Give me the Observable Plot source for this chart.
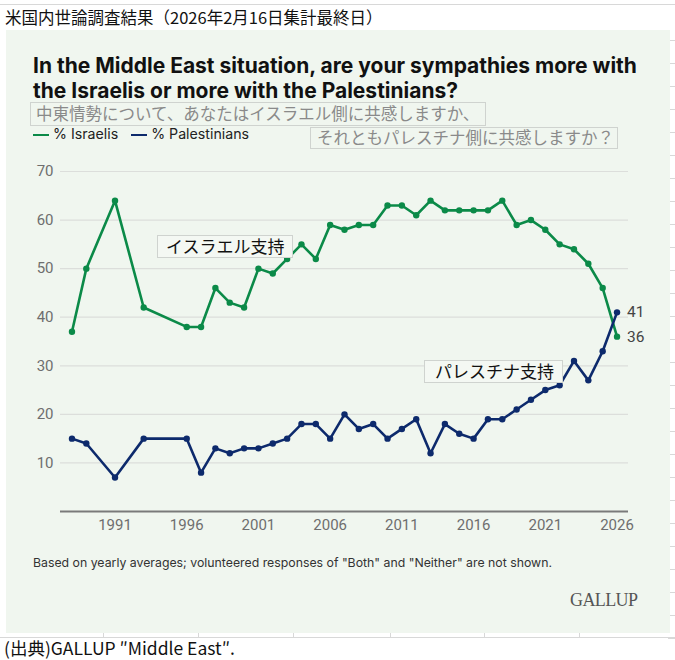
<!DOCTYPE html>
<html><head><meta charset="utf-8">
<script src="https://cdn.jsdelivr.net/npm/d3@7"></script>
<script src="https://cdn.jsdelivr.net/npm/@observablehq/plot@0.6"></script>
<style>
html,body{margin:0;padding:0;background:#fff;}
#wrap{position:relative;width:675px;height:660px;overflow:hidden;font-family:Inter,Roboto,"Noto Sans",sans-serif;}
.abs{position:absolute;white-space:nowrap;}
.jp{font-family:"Noto Sans CJK JP",sans-serif;}
#panel{position:absolute;left:6px;top:30px;width:664px;height:603px;background:#f0f6ef;}
.box{position:absolute;border:1.5px solid #cfd3cf;box-sizing:border-box;}
.cell{position:absolute;background:#d8d8d8;}
</style></head>
<body><div id="wrap">
<div class="cell" style="left:0;top:4px;width:675px;height:1px;"></div>
<div class="abs jp" style="left:5px;top:5px;font-size:16.5px;color:#111;">米国内世論調査結果（2026年2月16日集計最終日）</div>
<div id="cells"></div>
<div id="panel"></div>
<div class="abs" style="left:33px;top:53px;font-size:21px;font-weight:700;color:#111;line-height:25px;">In the Middle East situation, are your sympathies more with</div>
<div class="abs" style="left:33px;top:78px;font-size:21px;font-weight:700;color:#111;line-height:25px;">the Israelis or more with the Palestinians?</div>
<div class="box" style="left:30px;top:102px;width:456px;height:24px;"></div>
<div class="abs jp" style="left:36px;top:101px;font-size:16.5px;line-height:24px;color:#8a8a8a;">中東情勢について、あなたはイスラエル側に共感しますか、</div>
<div class="box" style="left:310px;top:127px;width:308px;height:22px;"></div>
<div class="abs jp" style="left:317px;top:125px;font-size:16.5px;line-height:24px;color:#8a8a8a;">それともパレスチナ側に共感しますか？</div>
<div id="legend" class="abs" style="left:33px;top:125px;font-size:14.2px;line-height:18px;color:#222;"></div>
<div id="chart" class="abs" style="left:0;top:160px;"></div>
<div class="box" style="left:157px;top:235px;width:136px;height:23px;background:#f4f8f3;"></div>
<div class="abs jp" style="left:166px;top:234px;font-size:17px;line-height:24px;color:#111;">イスラエル支持</div>
<div class="box" style="left:424px;top:360px;width:139px;height:23px;background:#f4f8f3;"></div>
<div class="abs jp" style="left:435px;top:359px;font-size:17px;line-height:24px;color:#111;">パレスチナ支持</div>
<div class="abs" style="left:33px;top:555px;font-size:12.3px;line-height:16px;color:#333;">Based on yearly averages; volunteered responses of "Both" and "Neither" are not shown.</div>
<div class="abs" style="left:570px;top:590px;font-size:18px;line-height:20px;color:#555;font-family:'Liberation Serif',serif;letter-spacing:-0.6px;">GALLUP</div>
<div class="abs jp" style="left:4px;top:638px;font-size:17.5px;line-height:20px;color:#111;">(出典)GALLUP ″Middle East″.</div>
</div>
<script>
const years = [1988,1989,1991,1993,1996,1997,1998,1999,2000,2001,2002,2003,2004,2005,2006,2007,2008,2009,2010,2011,2012,2013,2014,2015,2016,2017,2018,2019,2020,2021,2022,2023,2024,2025,2026];
const israelis = [37,50,64,42,38,38,46,43,42,50,49,52,55,52,59,58,59,59,63,63,61,64,62,62,62,62,64,59,60,58,55,54,51,46,36];
const palestinians = [15,14,7,15,15,8,13,12,13,13,14,15,18,18,15,20,17,18,15,17,19,12,18,16,15,19,19,21,23,25,26,31,27,33,41];
const seriesNames = ["% Israelis","% Palestinians"];
const seriesColors = ["#0b8a48","#0d2a6c"];
const yTicks = [10,20,30,40,50,60,70];
const xTicks = [1991,1996,2001,2006,2011,2016,2021,2026];

const data = [];
years.forEach((y,i)=>{
  data.push({year:y, value:israelis[i], series:seriesNames[0]});
  data.push({year:y, value:palestinians[i], series:seriesNames[1]});
});
const last = data.filter(d=>d.year===years[years.length-1]);

const chart = Plot.plot({
  width:675, height:380,
  marginLeft:60, marginRight:47, marginTop:11, marginBottom:29,
  style:{background:"transparent", overflow:"visible", fontFamily:"Roboto, sans-serif"},
  x:{domain:[1987.2,2026.8]},
  y:{domain:[0,70]},
  color:{domain:seriesNames, range:seriesColors},
  marks:[
    Plot.ruleY(yTicks,{stroke:"#dcdedb", strokeWidth:1.2}),
    Plot.ruleY([0],{stroke:"#7a7a7a", strokeWidth:1.8}),
    Plot.axisY({ticks:yTicks, tickSize:0, tickPadding:7, fontSize:15, color:"#6e6e6e", label:null}),
    Plot.axisX({ticks:xTicks, tickSize:0, tickPadding:8, fontSize:15, color:"#6e6e6e", tickFormat:d=>String(d), label:null}),
    Plot.line(data,{x:"year", y:"value", stroke:"series", strokeWidth:2.6, z:"series"}),
    Plot.dot(data,{x:"year", y:"value", fill:"series", r:3.2}),
    Plot.text(last,{x:"year", y:"value", text:d=>String(d.value), dx:10, textAnchor:"start", fontSize:15.5, fill:"#444"})
  ]
});
document.getElementById("chart").appendChild(chart);

const leg = document.getElementById("legend");
leg.innerHTML = seriesNames.map((n,i)=>`<span style="display:inline-block;width:16px;height:2.5px;background:${seriesColors[i]};vertical-align:middle;margin-right:4px;"></span><span style="margin-right:13px;">${n}</span>`).join("");

const cells = document.getElementById("cells");
let html = `<div class="cell" style="left:0;top:637px;width:675px;height:1px;"></div>`;
[103,198,293,390,484,579].forEach(x=>{ html += `<div class="cell" style="left:${x}px;top:630px;width:1px;height:8px;"></div>`; });
for (let y=40; y<640; y+=23) html += `<div class="cell" style="left:668px;top:${y}px;width:7px;height:1px;"></div>`;
cells.innerHTML = html;
</script>
</body></html>
